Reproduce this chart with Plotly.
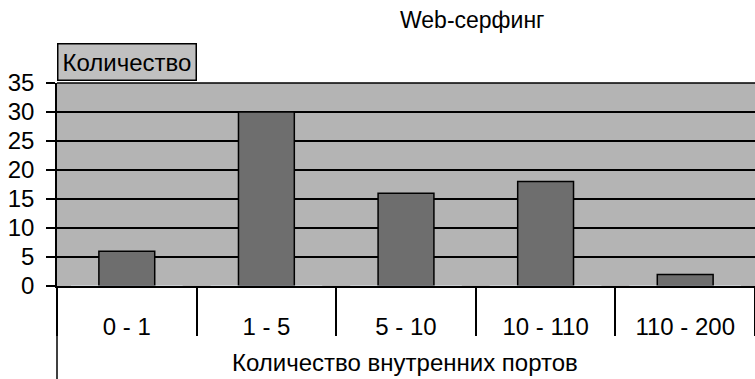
import plotly.graph_objects as go

categories = ["0 - 1", "1 - 5", "5 - 10", "10 - 110", "110 - 200"]
counts = [6, 30, 16, 18, 2]
y_ticks = [0, 5, 10, 15, 20, 25, 30, 35]

title_text = "Web-серфинг"
y_label = "Количество"
x_label = "Количество внутренних портов"

FONT = "Liberation Sans, Arial, sans-serif"
FS = 24

fig = go.Figure()
fig.add_trace(go.Bar(
    x=categories, y=counts, width=0.4,
    marker=dict(color="#6e6e6e", line=dict(color="#000000", width=1.5)),
    xaxis="x", yaxis="y",
))
# invisible trace on second x axis to carry boundary ticks
fig.add_trace(go.Bar(x=categories, y=[0] * len(categories), xaxis="x2", yaxis="y",
                     marker=dict(color="rgba(0,0,0,0)"), hoverinfo="skip", showlegend=False))

fig.update_layout(
    width=755, height=379,
    margin=dict(l=57, r=0, t=83, b=93),
    paper_bgcolor="white",
    plot_bgcolor="#b4b4b4",
    showlegend=False,
    font=dict(family=FONT, color="black", size=FS),
    xaxis=dict(
        type="category", range=[-0.5, 4.5],
        showgrid=False, zeroline=False,
        showline=True, linecolor="black", linewidth=1.5,
        ticks="", ticklabelstandoff=18,
        tickfont=dict(size=FS, family=FONT),
    ),
    xaxis2=dict(
        type="category", overlaying="x", matches="x", side="bottom",
        range=[-0.5, 4.5], showticklabels=False, showgrid=False, zeroline=False,
        ticks="outside", tickson="boundaries", ticklen=49, tickwidth=1.5, tickcolor="black",
    ),
    yaxis=dict(
        range=[0, 35], tickvals=y_ticks, ticktext=[str(v) for v in y_ticks],
        showgrid=True, gridcolor="black", gridwidth=1.5,
        zeroline=False, showline=True, linecolor="black", linewidth=1.5,
        ticks="outside", ticklen=9, tickcolor="black", tickwidth=1.5,
        tickfont=dict(size=FS, family=FONT), ticklabelstandoff=7,
    ),
    shapes=[
        dict(type="line", xref="paper", yref="paper", x0=0, x1=0, y0=0, y1=-0.5,
             line=dict(color="black", width=1.5)),
        dict(type="line", xref="paper", yref="paper", x0=0, x1=1, y0=1, y1=1,
             line=dict(color="black", width=1.5)),
    ],
    annotations=[
        dict(text=title_text, xref="paper", yref="paper", x=0.595, y=1.31,
             xanchor="center", yanchor="middle", showarrow=False,
             font=dict(size=23, family=FONT)),
        dict(text=y_label, xref="paper", yref="paper", x=0, y=1.01,
             xanchor="left", yanchor="bottom", showarrow=False,
             bgcolor="#c0c0c0", bordercolor="black", borderwidth=1.5, borderpad=4,
             font=dict(size=FS, family=FONT)),
        dict(text=x_label, xref="paper", yref="paper", x=0.499, y=-0.375,
             xanchor="center", yanchor="middle", showarrow=False,
             font=dict(size=FS, family=FONT)),
    ],
)

fig.write_html("out.html")
